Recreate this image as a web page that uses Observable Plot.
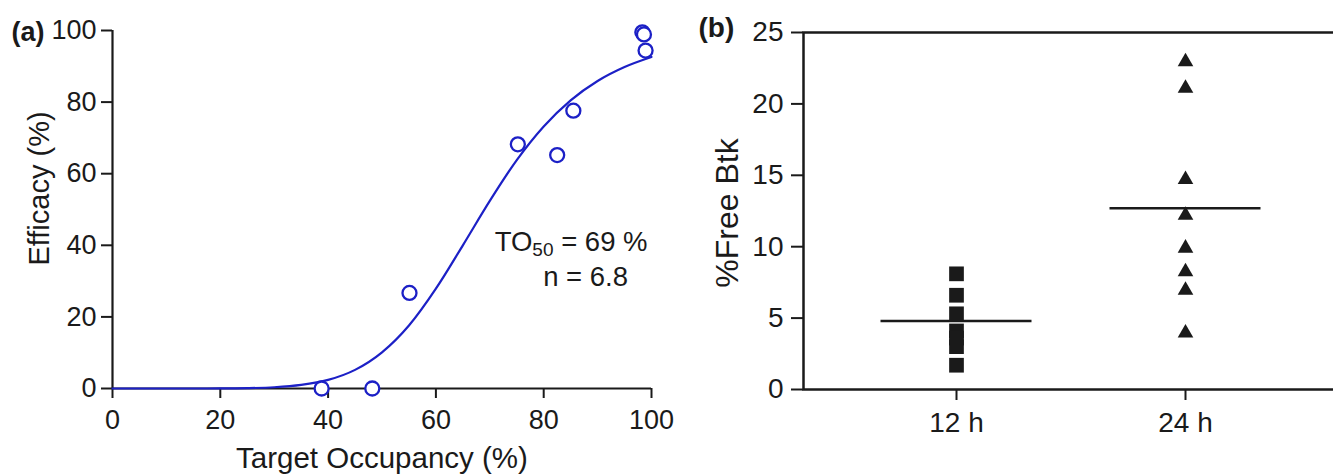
<!DOCTYPE html>
<html><head><meta charset="utf-8">
<script src="https://cdn.jsdelivr.net/npm/d3@7"></script>
<script src="https://cdn.jsdelivr.net/npm/@observablehq/plot@0.6"></script>
<style>
html,body{margin:0;padding:0;background:#fff;width:1333px;height:474px;overflow:hidden;position:relative;}
#a{position:absolute;left:0;top:0;width:680px;}
#b{position:absolute;left:680px;top:0;width:660px;}
svg{max-width:none !important;}
</style></head><body>
<div id="a"></div><div id="b"></div>
<script>
// ---- Panel (a) data ----
const occupancy = [38.8, 48.2, 55.1, 75.2, 82.5, 85.5, 98.3, 98.6, 98.9];
const efficacy  = [0, 0, 26.7, 68.2, 65.2, 77.6, 99.5, 98.9, 94.4];
const fitOccupancy = [0, 5, 10, 15, 20, 25, 30, 35, 40, 45, 50, 55, 60, 65, 70, 75, 80, 85, 90, 95, 100];
const fitEfficacy  = [0, 0, 0, 0, 0.02, 0.1, 0.35, 1.0, 2.4, 5.2, 10.1, 17.6, 27.9, 40.0, 52.4, 63.8, 73.2, 80.5, 85.9, 89.8, 92.6];
const xTicksA = [0, 20, 40, 60, 80, 100];
const yTicksA = [0, 20, 40, 60, 80, 100];
const annoText = ["TO50 = 69 %", "n = 6.8"];
const annoX = [70.9, 79.9];
const annoY = [40.9, 31.2];

// ---- Panel (b) data ----
const groups = ["12 h", "24 h"];
const free12 = [8.1, 6.6, 5.3, 4.1, 3.6, 3.0, 1.7];
const free24 = [22.95, 21.1, 14.7, 12.2, 9.9, 8.25, 6.95, 3.95];
const groupMeans = [4.8, 12.7];
const yTicksB = [0, 5, 10, 15, 20, 25];

const BLUE = "#1c20c6";
const INK = "#1a1a1a";
const FONT = "'Liberation Sans', Arial, Helvetica, sans-serif";

const ptsA = occupancy.map((x, i) => ({x, y: efficacy[i]}));
const fitA = fitOccupancy.map((x, i) => ({x, y: fitEfficacy[i]}));
const annoA = annoText.map((t, i) => ({t, x: annoX[i], y: annoY[i]}));

const plotA = Plot.plot({
  width: 680, height: 474,
  marginLeft: 112, marginRight: 29, marginTop: 30, marginBottom: 86,
  style: {fontFamily: FONT, fontSize: "27px", color: INK, background: "transparent", overflow: "visible", maxWidth: "none"},
  x: {domain: [0, 100]},
  y: {domain: [0, 100]},
  marks: [
    Plot.axisX({ticks: xTicksA, tickSize: 10, tickPadding: 11, strokeWidth: 2, label: null, fontSize: 27}),
    Plot.axisY({ticks: yTicksA, tickSize: 11, tickPadding: 5, strokeWidth: 2, label: null, fontSize: 27}),
    Plot.ruleY([0], {stroke: INK, strokeWidth: 2.2}),
    Plot.ruleX([0], {stroke: INK, strokeWidth: 2.2}),
    Plot.line(fitA, {x: "x", y: "y", stroke: BLUE, strokeWidth: 2.2, curve: "monotone-x"}),
    Plot.dot(ptsA, {x: "x", y: "y", r: 7, stroke: BLUE, strokeWidth: 2.3, fill: "white"}),
    Plot.text(annoA, {x: "x", y: "y", text: "t", textAnchor: "start", lineAnchor: "middle", fontSize: 27.5, fill: INK}),
    Plot.text(["Target Occupancy (%)"], {frameAnchor: "bottom", textAnchor: "middle", lineAnchor: "middle", dy: 70, fontSize: 29.5, fill: INK}),
    Plot.text(["Efficacy (%)"], {frameAnchor: "left", textAnchor: "middle", lineAnchor: "middle", rotate: -90, dx: -73, dy: -21, fontSize: 29, fill: INK}),
    Plot.text(["(a)"], {frameAnchor: "top-left", textAnchor: "start", lineAnchor: "middle", dx: -101, dy: 1.5, fontSize: 27, fontWeight: "bold", fill: INK})
  ]
});
document.getElementById("a").appendChild(plotA);

// subscript for TO50
d3.select(plotA).selectAll("text").each(function() {
  if (this.textContent === "TO50 = 69 %") {
    const el = d3.select(this);
    el.text(null);
    el.append("tspan").text("TO");
    el.append("tspan").attr("dy", "5").attr("font-size", "19").text("50");
    el.append("tspan").attr("dy", "-5").text(" = 69 %");
  }
});

const sq = free12.map(v => ({g: groups[0], v}));
const tri = free24.map(v => ({g: groups[1], v}));
const meansB = groups.map((g, i) => ({g, m: groupMeans[i]}));

const plotB = Plot.plot({
  width: 660, height: 474,
  marginLeft: 123, marginRight: 2, marginTop: 32, marginBottom: 85,
  style: {fontFamily: FONT, fontSize: "28px", color: INK, background: "transparent", overflow: "visible", maxWidth: "none"},
  x: {type: "point", domain: groups, padding: 0.668},
  y: {domain: [0, 25]},
  marks: [
    Plot.frame({stroke: INK, strokeWidth: 2.5}),
    Plot.axisX({tickSize: 11, tickPadding: 12, strokeWidth: 2, label: null, fontSize: 28}),
    Plot.axisY({ticks: yTicksB, tickSize: 12, tickPadding: 8, strokeWidth: 2, label: null, fontSize: 28}),
    Plot.ruleY(meansB, {x1: "g", x2: "g", y: "m", stroke: INK, strokeWidth: 2.5, insetLeft: -75.5, insetRight: -75.5}),
    Plot.dot(sq, {x: "g", y: "v", symbol: "square", r: 8.3, fill: INK}),
    Plot.dot(tri, {x: "g", y: "v", symbol: "triangle", r: 5.8, fill: INK}),
    Plot.text(["%Free Btk"], {frameAnchor: "left", textAnchor: "middle", lineAnchor: "middle", rotate: -90, dx: -76, dy: 2, fontSize: 32, fill: INK}),
    Plot.text(["(b)"], {frameAnchor: "top-left", textAnchor: "start", lineAnchor: "middle", dx: -105, dy: -4.6, fontSize: 28, fontWeight: "bold", fill: INK})
  ]
});
document.getElementById("b").appendChild(plotB);
</script>
</body></html>
